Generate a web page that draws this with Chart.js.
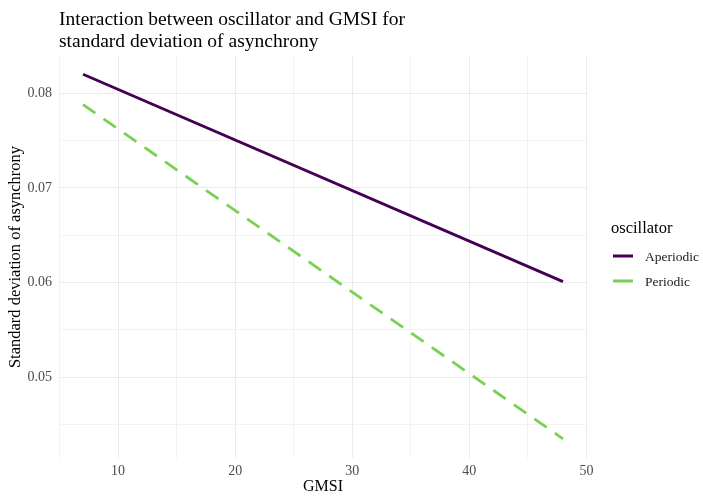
<!DOCTYPE html>
<html>
<head>
<meta charset="utf-8">
<script src="https://cdn.jsdelivr.net/npm/chart.js@4/dist/chart.umd.min.js"></script>
<style>
  body { margin: 0; background: #fff; }
  #wrap { width: 703px; height: 496px; }
</style>
</head>
<body>
<div id="wrap"><canvas id="asyncChart" width="703" height="496"></canvas></div>
<script>
var gmsi = [7, 48];
var aperiodic = [0.0820, 0.0601];
var periodic = [0.0788, 0.0435];
var xTicks = [5, 10, 15, 20, 25, 30, 35, 40, 45, 50];
var yTicks = [0.045, 0.05, 0.055, 0.06, 0.065, 0.07, 0.075, 0.08];

var serif = "'Liberation Serif', 'Times New Roman', serif";

function toPoints(xs, ys) {
    return xs.map(function (x, i) { return { x: x, y: ys[i] }; });
}
function isMajor(v) {
    return Math.abs(v * 100 - Math.round(v * 100)) < 1e-6 || (v >= 5 && v % 10 === 0);
}

// title sits flush with the panel's left edge, like ggplot
var titlePlugin = {
    id: 'leftTitle',
    afterDraw: function (chart) {
        var ctx = chart.ctx;
        ctx.save();
        ctx.fillStyle = '#000';
        ctx.font = '19.5px ' + serif;
        ctx.textBaseline = 'alphabetic';
        ctx.fillText('Interaction between oscillator and GMSI for', chart.chartArea.left, 25);
        ctx.fillText('standard deviation of asynchrony', chart.chartArea.left, 47);
        ctx.restore();
    }
};

// ggplot style legend on the right
var legendPlugin = {
    id: 'ggLegend',
    afterDraw: function (chart) {
        var ctx = chart.ctx;
        var x0 = chart.chartArea.right + 26;
        ctx.save();
        ctx.fillStyle = '#000';
        ctx.font = '16.5px ' + serif;
        ctx.textBaseline = 'alphabetic';
        ctx.fillText('oscillator', x0 - 2, 233);
        ctx.font = '13.5px ' + serif;
        ctx.textBaseline = 'middle';
        chart.data.datasets.forEach(function (ds, i) {
            var y = 256 + i * 25;
            ctx.strokeStyle = ds.borderColor;
            ctx.lineWidth = 3;
            ctx.setLineDash([]);
            ctx.beginPath();
            ctx.moveTo(x0, y);
            ctx.lineTo(x0 + 20, y);
            ctx.stroke();
            ctx.fillStyle = '#1a1a1a';
            ctx.fillText(ds.label, x0 + 32, y + 1);
        });
        ctx.restore();
    }
};

var ctx = document.getElementById('asyncChart').getContext('2d');
var chart = new Chart(ctx, {
    type: 'line',
    data: {
        datasets: [{
            label: 'Aperiodic',
            data: toPoints(gmsi, aperiodic),
            borderColor: '#440154',
            backgroundColor: '#440154',
            borderWidth: 2.8,
            pointRadius: 0,
            fill: false
        }, {
            label: 'Periodic',
            data: toPoints(gmsi, periodic),
            borderColor: '#7AD151',
            backgroundColor: '#7AD151',
            borderWidth: 2.8,
            borderDash: [15, 10],
            pointRadius: 0,
            fill: false
        }]
    },
    plugins: [titlePlugin, legendPlugin],
    options: {
        responsive: false,
        animation: false,
        layout: { padding: { top: 56, left: 6, right: 116, bottom: 0 } },
        plugins: {
            tooltip: { enabled: false },
            legend: { display: false }
        },
        scales: {
            x: {
                type: 'linear',
                min: 4.95,
                max: 50.05,
                afterBuildTicks: function (s) { s.ticks = xTicks.map(function (v) { return { value: v }; }); },
                afterFit: function (s) { s.height = 38; },
                border: { display: false },
                grid: {
                    drawTicks: false,
                    color: function (c) { return c.tick && c.tick.value % 10 === 0 ? '#ebebeb' : '#f2f2f2'; },
                    lineWidth: 1
                },
                ticks: {
                    color: '#4d4d4d',
                    font: { family: serif, size: 14 },
                    padding: 5,
                    maxRotation: 0,
                    autoSkip: false,
                    callback: function (v) { return v % 10 === 0 ? String(v) : ''; }
                },
                title: {
                    display: true,
                    text: 'GMSI',
                    color: '#000',
                    font: { family: serif, size: 16 },
                    padding: { top: 0, bottom: 0 }
                }
            },
            y: {
                type: 'linear',
                min: 0.04147,
                max: 0.08393,
                afterBuildTicks: function (s) { s.ticks = yTicks.map(function (v) { return { value: v }; }); },
                afterFit: function (s) { s.width = 53; },
                border: { display: false },
                grid: {
                    drawTicks: false,
                    color: function (c) { return c.tick && isMajor(c.tick.value) ? '#ebebeb' : '#f2f2f2'; },
                    lineWidth: 1
                },
                ticks: {
                    color: '#4d4d4d',
                    font: { family: serif, size: 14 },
                    padding: 7,
                    autoSkip: false,
                    callback: function (v) { return isMajor(v) ? v.toFixed(2) : ''; }
                },
                title: {
                    display: true,
                    text: 'Standard deviation of asynchrony',
                    color: '#000',
                    font: { family: serif, size: 16.5 },
                    padding: { top: 0, bottom: 0 }
                }
            }
        }
    }
});
</script>
</body>
</html>
